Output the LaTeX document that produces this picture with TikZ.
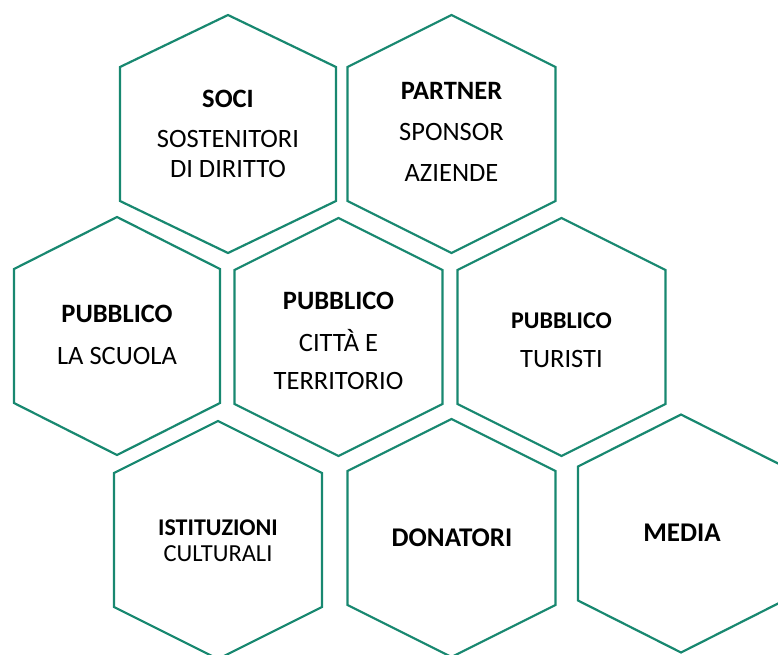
\documentclass[tikz,border=0pt]{standalone}
\usepackage{fontspec}
\setmainfont{Carlito}
\definecolor{hexline}{RGB}{24,136,112}
\tikzset{
  hexcell/.style={draw=hexline, line width=2.2pt, line join=miter},
  lbl/.style={anchor=base, inner sep=0pt, font=\fontsize{26.5}{30}\selectfont},
  lblb/.style={lbl, font=\fontsize{26.5}{30}\selectfont\bfseries},
}
\newcommand\hexat[4]{% cx, cy, halfwidth, name
  \coordinate (#4) at (#1,#2);
  \draw[hexcell] (#1,#2-119) -- (#1+#3,#2-67) -- (#1+#3,#2+67) -- (#1,#2+119)
     -- (#1-#3,#2+67) -- (#1-#3,#2-67) -- cycle;}
\begin{document}
\begin{tikzpicture}[x=1pt,y=-1pt]
\useasboundingbox (0,0) rectangle (778,654);
\hexat{228}{134}{108}{h1}
\hexat{451.5}{134}{104}{h2}
\hexat{117}{336}{103}{h3}
\hexat{338.5}{337}{104}{h4}
\hexat{561.5}{337}{104}{h5}
\hexat{218}{540}{104}{h6}
\hexat{451.5}{538}{104}{h7}
\hexat{681}{533.5}{103}{h8}
% SOCI
\node[lblb] (t1a) at (228,107) {SOCI};
\node[lbl] (t1b) at (228,147) {SOSTENITORI};
\node[lbl] (t1c) at (228,177) {DI DIRITTO};
% PARTNER
\node[lblb] (t2a) at (451.5,99) {PARTNER};
\node[lbl] (t2b) at (451.5,140) {SPONSOR};
\node[lbl] (t2c) at (451.5,181) {AZIENDE};
% PUBBLICO LA SCUOLA
\node[lblb] (t3a) at (117,322) {PUBBLICO};
\node[lbl] (t3b) at (117,364) {LA SCUOLA};
% PUBBLICO CITTA
\node[lblb] (t4a) at (338.5,309) {PUBBLICO};
\node[lbl] (t4b) at (338.5,351) {CITTÀ E};
\node[lbl] (t4c) at (338.5,389) {TERRITORIO};
% PUBBLICO TURISTI
\node[lblb, font=\fontsize{24}{28}\selectfont\bfseries] (t5a) at (561.5,328) {PUBBLICO};
\node[lbl] (t5b) at (561.5,367) {TURISTI};
% ISTITUZIONI
\node[lblb, font=\fontsize{24}{28}\selectfont\bfseries] (t6a) at (218,535) {ISTITUZIONI};
\node[lbl, font=\fontsize{24.5}{28}\selectfont] (t6b) at (218,561) {CULTURALI};
% DONATORI
\node[lblb, font=\fontsize{27}{31}\selectfont\bfseries] (t7a) at (452,546) {DONATORI};
% MEDIA
\node[lblb, font=\fontsize{27}{31}\selectfont\bfseries] (t8a) at (682,541) {MEDIA};
\end{tikzpicture}
\end{document}
